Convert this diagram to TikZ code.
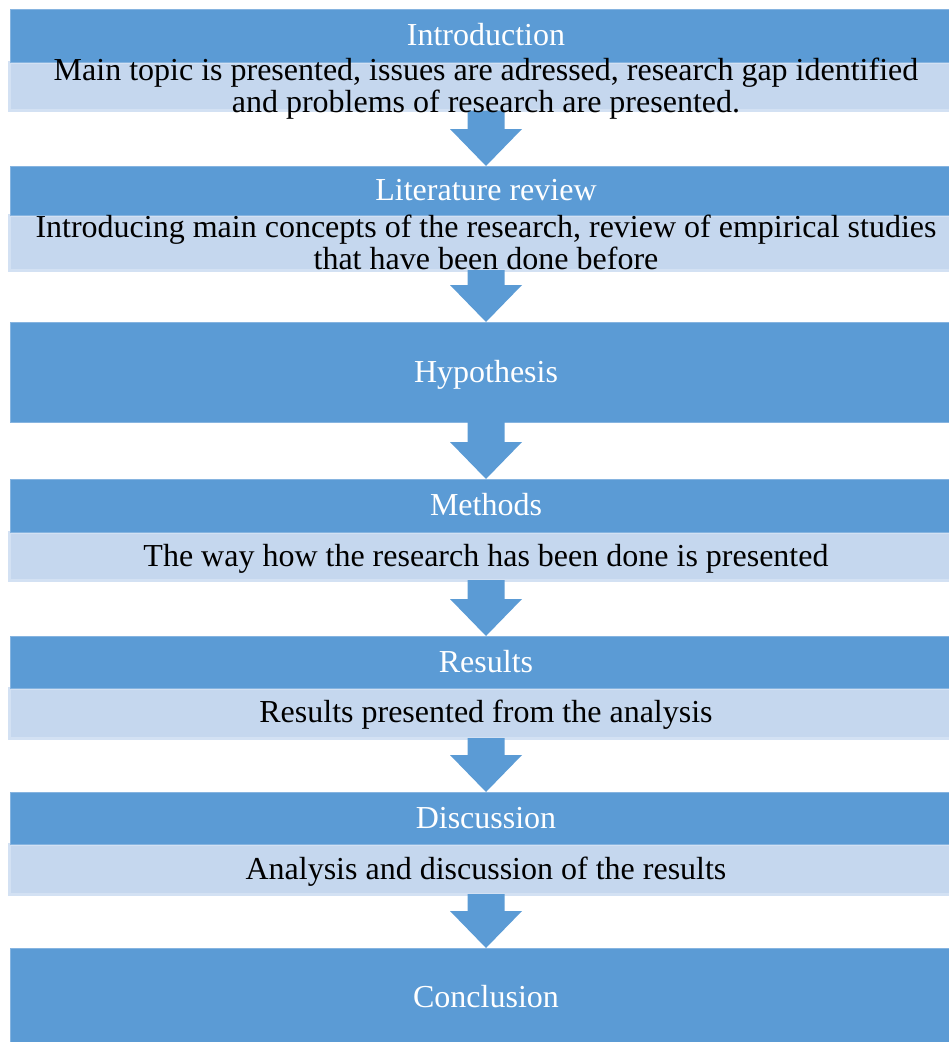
\documentclass[tikz,border=0pt]{standalone}
\usepackage{fontspec}
\setmainfont{Liberation Serif}
\usetikzlibrary{calc}
\definecolor{dkblue}{HTML}{5B9BD5}
\definecolor{dkedge}{HTML}{86B4E0}
\definecolor{ltblue}{HTML}{C5D7EE}
\definecolor{ltedge}{HTML}{D3E1F3}
\newcommand{\flowarrow}[2]{%
  \fill[arrowfill] ($(#1.south)+(-18.5,0)$) -- ($(#1.south)+(18.5,0)$)
    -- ($(#2.north)+(18.5,-37)$) -- ($(#2.north)+(36,-37)$)
    -- (#2.north) -- ($(#2.north)+(-36,-37)$)
    -- ($(#2.north)+(-18.5,-37)$) -- cycle;}
\begin{document}
\begin{tikzpicture}[x=1pt,y=-1pt,
  bigfont/.style={font=\fontsize{32}{32}\selectfont},
  darkbox/.style={rectangle, fill=dkblue, draw=dkedge, line width=0.8pt,
    minimum width=951pt, inner sep=0pt, outer sep=0pt, text=white, bigfont,
    text height=20pt, text depth=0pt},
  lightbox/.style={rectangle, fill=ltblue, draw=ltedge, line width=3pt,
    minimum width=953pt, inner sep=0pt, outer sep=0pt},
  bodytext/.style={bigfont, text=black, anchor=base, inner sep=0pt},
  arrowfill/.style={fill=dkblue}]
\useasboundingbox (0,0) rectangle (949,1042);
% light boxes
\node[lightbox, minimum height=48.5pt] (intro-l) at (486,86.25) {};
\node[lightbox, minimum height=55pt] (lit-l) at (486,242.5) {};
\node[lightbox, minimum height=48pt] (meth-l) at (486,556) {};
\node[lightbox, minimum height=50pt] (res-l) at (486,713) {};
\node[lightbox, minimum height=50pt] (disc-l) at (486,869) {};
% dark boxes
\node[darkbox, minimum height=53pt] (intro) at (486,35.5) {Introduction};
\node[darkbox, minimum height=49pt] (lit) at (486,190.5) {Literature review};
\node[darkbox, minimum height=100pt] (hyp) at (486,372) {Hypothesis};
\node[darkbox, minimum height=53pt] (meth) at (486,505.5) {Methods};
\node[darkbox, minimum height=52pt] (res) at (486,662) {Results};
\node[darkbox, minimum height=52pt] (disc) at (486,818) {Discussion};
\node[darkbox, minimum height=98pt] (concl) at (486,997) {Conclusion};
% arrows
\flowarrow{intro-l}{lit}
\flowarrow{lit-l}{hyp}
\flowarrow{hyp}{meth}
\flowarrow{meth-l}{res}
\flowarrow{res-l}{disc}
\flowarrow{disc-l}{concl}
% body texts
\node[bodytext] (intro-t) at (486,80) {\begin{tabular}[t]{@{}c@{}}Main topic is presented, issues are adressed, research gap identified\\and problems of research are presented.\end{tabular}};
\node[bodytext] (lit-t) at (486,237) {\begin{tabular}[t]{@{}c@{}}Introducing main concepts of the research, review of empirical studies\\that have been done before\end{tabular}};
\node[bodytext] (meth-t) at (486,566) {The way how the research has been done is presented};
\node[bodytext] (res-t) at (486,722) {Results presented from the analysis};
\node[bodytext] (disc-t) at (486,879) {Analysis and discussion of the results};
\end{tikzpicture}
\end{document}
